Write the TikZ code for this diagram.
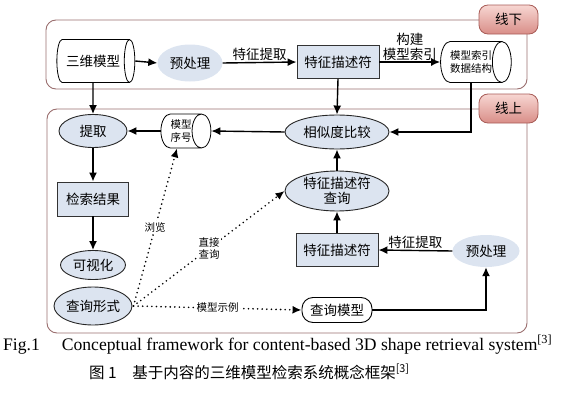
\documentclass[tikz,border=0pt]{standalone}
\usepackage{fontspec}
\setmainfont{Liberation Serif}
\newfontfamily\cjk{Noto Sans CJK SC}
\usetikzlibrary{shapes.geometric,arrows.meta}
\definecolor{nodeblue}{HTML}{DCE4F0}
\definecolor{frameline}{HTML}{9A6E6E}
\definecolor{tabtop}{HTML}{F7D6D2}
\definecolor{tabbot}{HTML}{D98E88}
\definecolor{tabline}{HTML}{A85C57}
\begin{document}
\begin{tikzpicture}[x=1pt,y=-1pt,
  cjkbig/.style={font=\cjk\fontsize{13.5}{16}\selectfont},
  cjksmall/.style={font=\cjk\fontsize{10.5}{12.5}\selectfont},
  blueell/.style={ellipse, draw=black!85, line width=0.9pt, fill=nodeblue, inner sep=0pt, cjkbig},
  preell/.style={ellipse, draw=none, fill=nodeblue, inner sep=0pt, cjkbig},
  bluebox/.style={rectangle, draw=black!80, line width=0.9pt, fill=nodeblue, inner sep=0pt, cjkbig},
  cyl/.style={cylinder, draw=black, shape border rotate=0, aspect=0.85, fill=white, line width=0.8pt, inner sep=0pt},
  tab/.style={rectangle, rounded corners=9pt, draw=tabline, line width=0.8pt, top color=tabtop, bottom color=tabbot, minimum width=59pt, minimum height=29pt, cjkbig},
  arr/.style={-{Latex[length=9pt,width=8pt]}, line width=1.4pt},
  dotarr/.style={-{Latex[length=9pt,width=8pt]}, line width=1.8pt, line cap=round, dash pattern=on 0pt off 4.6pt},
  lbl/.style={cjkbig, inner sep=1pt},
  slbl/.style={cjksmall, fill=white, inner sep=1pt},
  frame/.style={draw=frameline, line width=0.9pt, rounded corners=10pt}
]
\useasboundingbox (0,0) rectangle (587,415);
% frames
\draw[frame] (46,20) rectangle (527,89);
\draw[frame] (47,109) rectangle (527,333);
\node[tab] (offline) at (508.5,19.5) {线下};
\node[tab] (online) at (508.5,108.5) {线上};

% offline nodes
\node[cyl, minimum height=78pt, minimum width=43pt, cjkbig] (model3d) at (93,61) {三维模型};
\node[preell, minimum width=65pt, minimum height=37pt] (pre1) at (190,63) {预处理};
\node[bluebox, minimum width=82pt, minimum height=33pt] (fd1) at (338,62) {特征描述符};
\node[cyl, minimum height=70pt, minimum width=41pt, cjksmall, align=center] (idx) at (471,62) {模型索引\\数据结构};

% online nodes
\node[blueell, minimum width=68pt, minimum height=33pt] (extract) at (93,131) {提取};
\node[cyl, minimum height=50pt, minimum width=34pt, cjksmall, align=center] (seq) at (181,131) {模型\\序号};
\node[blueell, minimum width=104pt, minimum height=34pt] (sim) at (337,132) {相似度比较};
\node[blueell, minimum width=104pt, minimum height=40pt, align=center, font=\cjk\fontsize{13.5}{15}\selectfont] (fdq) at (337,191) {特征描述符\\查询};
\node[bluebox, minimum width=82pt, minimum height=33pt] (fd2) at (337,250) {特征描述符};
\node[preell, minimum width=67pt, minimum height=32pt] (pre2) at (486,251) {预处理};
\node[bluebox, minimum width=71pt, minimum height=34pt] (result) at (93,199) {检索结果};
\node[blueell, minimum width=65pt, minimum height=29pt] (vis) at (93,265) {可视化};
\node[blueell, minimum width=78pt, minimum height=38pt] (qform) at (93,306) {查询形式};
\node[rectangle, rounded corners=11pt, draw=black, line width=0.9pt, fill=white, minimum width=70pt, minimum height=25pt, inner sep=0pt, cjkbig] (qmodel) at (337,310) {查询模型};

% offline connectors
\draw[arr] (model3d.east) -- (pre1.west);
\draw[arr] (pre1.east) -- node[lbl, above] {特征提取} (fd1.west);
\draw[arr] (fd1.east) -- node[lbl, above, align=center, font=\cjk\fontsize{13.5}{15}\selectfont] {构建\\模型索引} (idx.west);
\draw[arr] (model3d.south) -- (extract.north);
\draw[arr] (fd1.south) -- (sim.north);
\draw[arr] (idx.south) |- (sim.east);

% online connectors
\draw[arr] (sim.west) -- (seq.east);
\draw[arr] (seq.west) -- (extract.east);
\draw[arr] (fdq.north) -- (sim.south);
\draw[arr] (fd2.north) -- (fdq.south);
\draw[arr] (pre2.west) -- node[lbl, above] {特征提取} (fd2.east);
\draw[arr] (extract.south) -- (result.north);
\draw[arr] (result.south) -- (vis.north);
\draw[arr] (qmodel.east) -| (pre2.south);

% dotted connectors
\coordinate (qstart) at ([xshift=1pt]qform.east);
\draw[dotarr] (qstart) -- node[slbl] {模型示例} (qmodel.west);
\draw[dotarr] (qstart) -- node[slbl] {浏览} ([xshift=-4pt]seq.south);
\draw[dotarr] (qstart) -- node[slbl, align=center] {直接\\查询} (fdq.west);

% caption
\node[font=\fontsize{17.6}{19}\selectfont, anchor=base west, inner sep=0pt] (capen) at (3,350) {Fig.1\quad\ Conceptual framework for content-based 3D shape retrieval system\textsuperscript{[3]}};
\node[font=\cjk\fontsize{15.5}{18}\selectfont, anchor=base west, inner sep=0pt] (capzh) at (89,378) {图 1\quad 基于内容的三维模型检索系统概念框架\textsuperscript{[3]}};
\end{tikzpicture}
\end{document}
